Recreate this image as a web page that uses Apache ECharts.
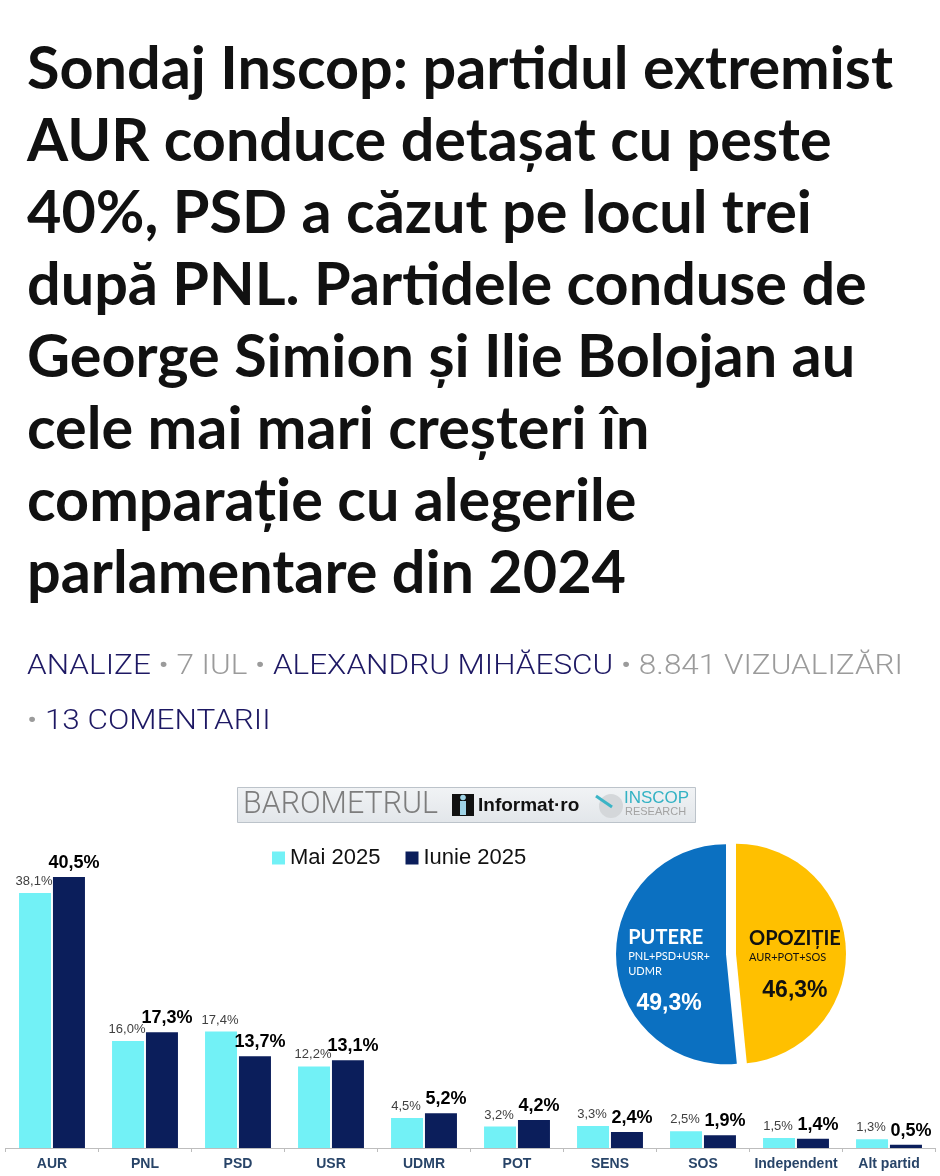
<!DOCTYPE html>
<html>
<head>
<meta charset="utf-8">
<script src="https://cdn.jsdelivr.net/npm/echarts@6/dist/echarts.min.js"></script>
<style>
html,body{margin:0;padding:0;background:#fff;}
#c{width:940px;height:1176px;}
</style>
</head>
<body>
<div id="c"></div>
<script>
// ---- data ----
const titleLines = [
  'Sondaj Inscop: partidul extremist',
  'AUR conduce detașat cu peste',
  '40%, PSD a căzut pe locul trei',
  'după PNL. Partidele conduse de',
  'George Simion și Ilie Bolojan au',
  'cele mai mari creșteri în',
  'comparație cu alegerile',
  'parlamentare din 2024'
];
const bylineParts1 = [['n','ANALIZE'],['g',' • 7 IUL • '],['n','ALEXANDRU MIHĂESCU'],['g',' • 8.841 VIZUALIZĂRI']];
const bylineParts2 = [['g','• '],['n','13 COMENTARII']];
const categories = ['AUR','PNL','PSD','USR','UDMR','POT','SENS','SOS','Independent','Alt partid'];
const seriesNames = ['Mai 2025','Iunie 2025'];
const mai2025 = [38.1,16.0,17.4,12.2,4.5,3.2,3.3,2.5,1.5,1.3];
const iunie2025 = [40.5,17.3,13.7,13.1,5.2,4.2,2.4,1.9,1.4,0.5];
const pieNames = ['OPOZIȚIE','PUTERE'];
const pieSubs = ['AUR+POT+SOS','PNL+PSD+USR+\nUDMR'];
const pieValues = [46.3,49.3];

// ---- helpers ----
const fmt = v => v.toFixed(1).replace('.', ',') + '%';
const mctx = document.createElement('canvas').getContext('2d');
function measure(font, text){ mctx.font = font; return mctx.measureText(text).width; }

const titleFont = 'bold 60px Lato';
const titleScale = 866 / measure(titleFont, titleLines[0]);
const byFont = '300 28px Roboto';
const byText1 = bylineParts1.map(p=>p[1]).join('');
const byScale = 876 / measure(byFont, byText1);
const toRich = parts => parts.map(p => '{' + p[0] + '|' + p[1] + '}').join('');
const byRich = {
  n: {fill:'#1d1863', fontFamily:'Roboto', fontWeight:300, fontSize:28},
  g: {fill:'#9b9b9b', fontFamily:'Roboto', fontWeight:300, fontSize:28}
};
const baroFont = '300 32px Roboto';
const baroScale = 195 / measure(baroFont, 'BAROMETRUL');

const CYAN = '#72F1F6', NAVY = '#0B1E5B';
const BLUE = '#0B70C1', GOLD = '#FFC000';

const chart = echarts.init(document.getElementById('c'), null, {renderer:'canvas'});
chart.setOption({
  animation:false,
  backgroundColor:'#ffffff',
  graphic:[
    {type:'text', x:27, y:34, scaleX:titleScale, scaleY:1,
     style:{text:titleLines.join('\n'), font:titleFont, fontFamily:'Lato', fontWeight:'bold', fontSize:60,
            lineHeight:72, fill:'#111111', align:'left', verticalAlign:'top'}},
    {type:'text', x:27, y:667, scaleX:byScale,
     style:{text:toRich(bylineParts1), rich:byRich, fontFamily:'Roboto', fontWeight:300, fontSize:28, verticalAlign:'middle', align:'left'}},
    {type:'text', x:27, y:722, scaleX:byScale,
     style:{text:toRich(bylineParts2), rich:byRich, fontFamily:'Roboto', fontWeight:300, fontSize:28, verticalAlign:'middle', align:'left'}},
    // banner
    {type:'rect', shape:{x:237.5, y:787.5, width:458, height:35},
     style:{fill:{type:'linear',x:0,y:0,x2:0,y2:1,colorStops:[{offset:0,color:'#f1f3f5'},{offset:1,color:'#e2e6ea'}]}, stroke:'#bcc3ca', lineWidth:1}},
    {type:'text', x:243, y:805, scaleX:baroScale, style:{text:'BAROMETRUL', fontFamily:'Roboto', fontWeight:300, fontSize:32, fill:'#7d7d7d', verticalAlign:'middle'}},
    {type:'rect', shape:{x:452, y:794, width:22, height:22}, style:{fill:'#111111'}},
    {type:'rect', shape:{x:460, y:801, width:6, height:14}, style:{fill:'#9fd3e6'}},
    {type:'circle', shape:{cx:463, cy:797.5, r:2.8}, style:{fill:'#9fd3e6'}},
    {type:'text', x:478, y:806, style:{text:'Informat·ro', fontFamily:'Liberation Sans', fontWeight:'bold', fontSize:19, fill:'#111111', verticalAlign:'middle'}},
    {type:'circle', shape:{cx:611, cy:806, r:12}, style:{fill:'#d4d7da'}},
    {type:'line', shape:{x1:596, y1:796, x2:612, y2:807}, style:{stroke:'#3ab4c6', lineWidth:3}},
    {type:'text', x:624, y:798, style:{text:'INSCOP', fontFamily:'Liberation Sans', fontSize:17, fill:'#33b2c4', verticalAlign:'middle'}},
    {type:'text', x:625, y:812, style:{text:'RESEARCH', fontFamily:'Liberation Sans', fontSize:11, fill:'#a3a3a3', verticalAlign:'middle'}}
  ],
  legend:{
    data:seriesNames, left:272, top:847, padding:0, icon:'rect', itemWidth:13, itemHeight:13, itemGap:25,
    textStyle:{fontFamily:'Liberation Sans', fontSize:22, color:'#111111'},
    selectedMode:false
  },
  grid:{left:5.5, right:4.5, top:867, bottom:28, containLabel:false},
  xAxis:{
    type:'category', data:categories,
    axisLine:{lineStyle:{color:'#bdbdbd', width:1}},
    axisTick:{show:true, length:4, lineStyle:{color:'#bdbdbd'}},
    axisLabel:{interval:0, margin:9, fontFamily:'Liberation Sans', fontWeight:'bold', fontSize:14, color:'#284468'}
  },
  yAxis:{type:'value', min:0, max:42, show:false, splitLine:{show:false}},
  series:[
    {name:seriesNames[0], type:'bar', data:mai2025, barWidth:32, barGap:'6%',
     itemStyle:{color:CYAN},
     label:{show:true, position:'top', distance:5, offset:[-1,0], formatter:p=>fmt(p.value),
            fontFamily:'Liberation Sans', fontSize:13, color:'#404040'}},
    {name:seriesNames[1], type:'bar', data:iunie2025, barWidth:32, barGap:'6%',
     itemStyle:{color:NAVY},
     label:{show:true, position:'top', distance:5, offset:[5,0], formatter:p=>fmt(p.value),
            fontFamily:'Liberation Sans', fontWeight:'bold', fontSize:18, color:'#000000'}},
    {type:'pie', center:[731,954], radius:110, startAngle:90, clockwise:true,
     selectedMode:'multiple', selectedOffset:5, emphasis:{scale:false}, silent:true,
     labelLine:{show:false},
     data:pieNames.map((n,i)=>({
       name:n, value:pieValues[i], selected:true,
       itemStyle:{color:i===0?GOLD:BLUE},
       label:{color:i===0?'#111111':'#ffffff'}
     })),
     label:{show:true, position:'inside', padding:[40,0,0,2],
       formatter:p=>'{t|'+p.name+'}\n{s|'+pieSubs[p.dataIndex].split('\n').join('}\n{s|')+'}\n{v|'+fmt(p.value)+'}',
       rich:{
         t:{fontFamily:'Lato', fontWeight:'bold', fontSize:20, lineHeight:24, align:'left'},
         s:{fontFamily:'Lato', fontSize:11, lineHeight:15, align:'left'},
         v:{fontFamily:'Liberation Sans', fontWeight:'bold', fontSize:23, lineHeight:50, align:'center'}
       }}
    }
  ]
});
</script>
</body>
</html>
